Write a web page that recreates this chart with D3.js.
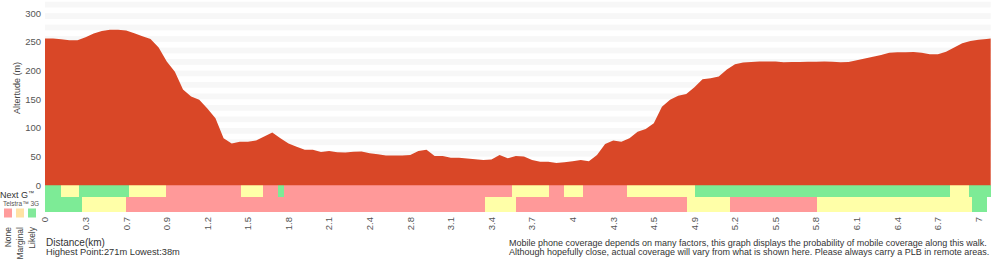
<!DOCTYPE html>
<html><head><meta charset="utf-8">
<script src="https://cdn.jsdelivr.net/npm/d3@7"></script>
<style>
body{margin:0;background:#fff}
svg{display:block;font-family:"Liberation Sans",Arial,Helvetica,sans-serif}
</style>
</head><body>
<svg id="chart" width="1000" height="260"></svg>
<script>
// ---------- DATA ----------
const sampleCount = 234;        // number of samples along the walk
const sampleStep = 2;           // elevation values are read every 2nd sample (last one = final sample)
const elevation = [
  256,256,254.5,253,253,258,264.5,269,271,271,270,265,260,255,240,216,198,167,155,149,
  134,117,82,73,76,76,78,85,92,82,73,67,62,62,58,60,57.5,57,58.5,59,
  56,54,52,52,52,53,60,62,51,51,48,48,46.5,45.5,44,45,53,47,51,50,
  44,41,41,39,40,42,44,42,53,72,78,76,82,93.5,98,108,137,149,156,159,
  171,185,186.5,189.5,202,211,214,215,215.7,215.7,215.7,214.5,215,215,215.5,215.5,216,215.5,214.5,215,
  218,221,224,227,231,232,232,232.5,231,228.5,228.5,233,240,247.5,251.5,253.5,255,256
];
const tickEvery = 10;
const tickLabels = ["0","0.3","0.7","0.9","1.2","1.5","1.8","2.1","2.4","2.8","3.1","3.4",
                    "3.7","4","4.3","4.5","4.9","5.2","5.5","5.8","6.1","6.4","6.7","7"];
const yTicks = [0,50,100,150,200,250,300];
const levels = ["None","Marginal","Likely"];
// coverage segments: [startSample, endSample, level]
const nextG = [
  [0,4,"Likely"],[4,8.4,"Marginal"],[8.4,20.7,"Likely"],[20.7,29.8,"Marginal"],
  [29.8,48.3,"None"],[48.3,53.7,"Marginal"],[53.7,57.3,"None"],[57.3,58.8,"Likely"],
  [58.8,115,"None"],[115,124.1,"Marginal"],[124.1,127.8,"None"],[127.8,132.5,"Marginal"],
  [132.5,143.3,"None"],[143.3,160.1,"Marginal"],[160.1,222.9,"Likely"],[222.9,227.6,"Marginal"],
  [227.6,233,"Likely"]
];
const telstra3G = [
  [0,9,"Likely"],[9,20,"Marginal"],[20,108.4,"None"],[108.4,116,"Marginal"],
  [116,158.2,"None"],[158.2,168.8,"Marginal"],[168.8,190.3,"None"],[190.3,228.3,"Marginal"],
  [228.3,232,"Likely"]
];
const highest = 271, lowest = 38;

// ---------- DRAW ----------
const svg = d3.select("#chart");
const plotLeft = 45, plotRight = 990.7, plotTop = 0, plotBase = 185.3;
const x = d3.scaleLinear().domain([0, sampleCount - 1]).range([plotLeft, plotRight]);
const y = d3.scaleLinear().domain([0, 323]).range([plotBase, plotTop]);

const stripColor = d3.scaleOrdinal().domain(levels).range(["#ff9999","#ffffa8","#7deb96"]);
const legendColor = d3.scaleOrdinal().domain(levels).range(["#ff9c9c","#ffe2a4","#82e99a"]);

// background bands
const bands = d3.range(20, 340, 20);
svg.append("g").selectAll("rect").data(bands).join("rect")
  .attr("x", plotLeft).attr("width", plotRight - plotLeft)
  .attr("y", d => Math.max(plotTop, y(d)))
  .attr("height", d => y(d - 10) - Math.max(plotTop, y(d)))
  .attr("fill", "#f7f7f7");

// coverage rows
function row(data, y0, y1){
  svg.append("g").attr("shape-rendering","crispEdges").selectAll("rect").data(data).join("rect")
    .attr("x", d => x(d[0])).attr("width", d => x(d[1]) - x(d[0]))
    .attr("y", y0).attr("height", y1 - y0)
    .attr("fill", d => stripColor(d[2]));
}
row(nextG, plotBase, 197);
row(telstra3G, 197, 212);

// elevation area
const pts = elevation.map((v, k) => [Math.min(k * sampleStep, sampleCount - 1), v]);
svg.append("path").datum(pts)
  .attr("fill", "#d94727")
  .attr("d", d3.area().x(d => x(d[0])).y0(y(0)).y1(d => y(d[1])));

// y axis labels
svg.append("g").selectAll("text").data(yTicks).join("text")
  .attr("x", 41).attr("y", d => y(d)).attr("dy", "0.35em")
  .attr("text-anchor", "end").attr("font-size", 9.5).attr("fill", "#555")
  .text(d => d);
svg.append("text").attr("transform", "translate(20,88) rotate(-90)")
  .attr("text-anchor", "middle").attr("font-size", 9).attr("fill", "#444")
  .text("Altertude (m)");

// x axis labels
svg.append("g").selectAll("text").data(tickLabels).join("text")
  .attr("transform", (d, i) => `translate(${x(i * tickEvery)},217) rotate(-90)`)
  .attr("dy", "0.35em").attr("text-anchor", "end")
  .attr("font-size", 9.5).attr("fill", "#555")
  .text(d => d);

// legend
const ng = svg.append("text").attr("x", 0).attr("y", 197.5).attr("font-size", 9).attr("fill", "#333");
ng.append("tspan").text("Next G");
ng.append("tspan").attr("font-size", 6).attr("dy", -2.5).text("™");
svg.append("text").attr("x", 3).attr("y", 205.5).attr("font-size", 6.5).attr("fill", "#555")
  .text("Telstra™ 3G");
svg.append("g").selectAll("rect").data(levels).join("rect")
  .attr("x", (d, i) => 4 + i * 12).attr("y", 208.5).attr("width", 8).attr("height", 9)
  .attr("fill", d => legendColor(d));
svg.append("g").selectAll("text").data(levels).join("text")
  .attr("transform", (d, i) => `translate(${8 + i * 12},227) rotate(-90)`)
  .attr("dy", "0.35em").attr("text-anchor", "end")
  .attr("font-size", 8.5).attr("fill", "#444")
  .text(d => d);

// footer text
svg.append("text").attr("x", 46).attr("y", 246).attr("font-size", 10).attr("fill", "#333")
  .text("Distance(km)");
svg.append("text").attr("x", 46).attr("y", 255).attr("font-size", 9.3).attr("fill", "#333")
  .text(`Highest Point:${highest}m Lowest:${lowest}m`);
svg.append("text").attr("x", 509).attr("y", 246).attr("font-size", 9).attr("fill", "#333")
  .text("Mobile phone coverage depends on many factors, this graph displays the probability of mobile coverage along this walk.");
svg.append("text").attr("x", 509).attr("y", 255).attr("font-size", 9).attr("fill", "#333")
  .text("Although hopefully close, actual coverage will vary from what is shown here. Please always carry a PLB in remote areas.");
</script>
</body></html>
